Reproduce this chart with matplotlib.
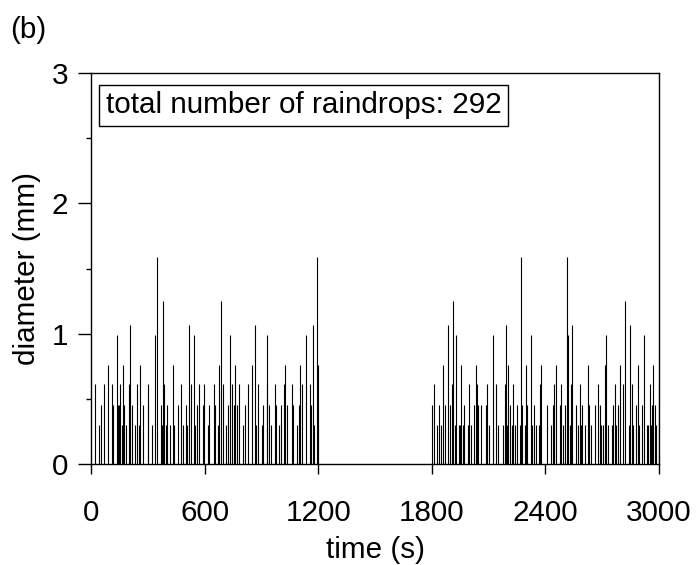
import matplotlib
matplotlib.use("Agg")
import matplotlib.pyplot as plt
from matplotlib.ticker import MultipleLocator

plt.rcParams['font.family'] = ['Liberation Sans', 'DejaVu Sans']

# drop arrival times (s) and diameters (mm)
times_1 = [21, 42, 51, 67, 88, 109, 116, 136, 141, 146, 155, 162, 168, 176, 183,
           201, 205, 215, 231, 242, 252, 259, 273, 300, 303, 321, 339, 349, 369,
           374, 379, 387, 395, 399, 416, 432, 438, 462, 477, 485, 501, 507, 515,
           529, 544, 551, 559, 570, 589, 597, 618, 625, 650]
diam_1 = [0.61, 0.30, 0.45, 0.61, 0.76, 0.61, 0.45, 0.99, 0.45, 0.45, 0.61, 0.30, 0.76, 0.45, 0.30,
          0.61, 1.07, 0.45, 0.30, 0.61, 0.30, 0.76, 0.45, 0.61, 0.45, 0.30, 0.99, 1.59, 0.45,
          0.30, 1.25, 0.61, 0.30, 0.45, 0.30, 0.76, 0.30, 0.45, 0.61, 0.30, 0.45, 0.30, 1.07,
          0.61, 0.99, 0.30, 0.45, 0.61, 0.45, 0.61, 0.30, 0.45, 0.61]

times_2 = [657, 671, 676, 687, 695, 715, 724, 736, 745, 755, 762, 773, 784, 803, 814,
           830, 851, 865, 872, 881, 904, 911, 927, 930, 939, 950, 971, 978, 994, 1006,
           1017, 1024, 1036, 1063, 1068, 1086, 1096, 1105, 1112, 1133, 1158, 1163, 1170,
           1177, 1192, 1197, 1199]
diam_2 = [0.45, 0.30, 0.76, 1.25, 0.61, 0.30, 0.45, 0.99, 0.61, 0.45, 0.76, 0.45, 0.61, 0.30, 0.45,
          0.61, 0.76, 1.07, 0.30, 0.61, 0.30, 0.45, 0.61, 0.99, 0.45, 0.30, 0.61, 0.45, 0.30, 0.45,
          0.61, 0.76, 0.45, 0.61, 0.45, 0.30, 0.45, 0.76, 0.61, 0.99, 0.61, 0.45, 1.07,
          0.30, 1.59, 0.76, 0.30]

times_3 = [1800, 1814, 1825, 1836, 1846, 1859, 1868, 1883, 1896, 1905, 1913, 1921, 1926,
           1942, 1949, 1954, 1963, 1972, 1989, 1995, 2009, 2023, 2032, 2039, 2044, 2058,
           2085, 2092, 2101, 2125, 2138, 2148, 2175, 2184, 2191, 2196, 2205, 2212, 2222,
           2228, 2242, 2252, 2267, 2272, 2279, 2290, 2295, 2305, 2323, 2330, 2341, 2350,
           2364, 2371, 2377]
diam_3 = [0.45, 0.61, 0.30, 0.45, 0.30, 0.76, 0.45, 1.07, 0.45, 0.61, 1.25, 0.30, 0.99,
          0.30, 0.30, 0.76, 0.30, 0.45, 0.30, 0.61, 0.30, 0.45, 0.76, 0.61, 0.45, 0.45,
          0.45, 0.61, 0.30, 0.99, 0.61, 0.30, 0.30, 0.61, 1.07, 0.30, 0.76, 0.45, 0.30,
          0.61, 0.30, 0.45, 0.30, 1.59, 0.45, 0.30, 0.76, 0.45, 0.99, 0.30, 0.45, 0.30,
          0.30, 0.61, 0.76]

times_4 = [2408, 2431, 2438, 2445, 2454, 2475, 2485, 2493, 2503, 2514, 2519, 2528, 2535,
           2542, 2561, 2574, 2581, 2588, 2593, 2609, 2623, 2630, 2641, 2660, 2678, 2688,
           2696, 2706, 2715, 2720, 2731, 2752, 2759, 2766, 2775, 2786, 2794, 2809, 2821,
           2840, 2849, 2856, 2863, 2879, 2888, 2897, 2909, 2922, 2936, 2943, 2950, 2957,
           2962, 2969, 2978, 2985, 2999]
diam_4 = [0.45, 0.30, 0.45, 0.61, 0.76, 0.45, 0.61, 0.30, 0.45, 1.59, 0.99, 0.30, 0.61,
          1.07, 0.45, 0.30, 0.61, 0.30, 0.45, 0.30, 0.76, 0.45, 0.30, 0.45, 0.61, 0.45,
          0.30, 0.30, 0.76, 0.99, 0.30, 0.30, 0.45, 0.61, 0.30, 0.45, 0.76, 0.61, 1.25,
          0.30, 1.07, 0.61, 0.30, 0.45, 0.76, 0.30, 0.45, 0.99, 0.30, 0.30, 0.61, 0.30,
          0.45, 0.76, 0.45, 0.30, 0.61]

times = times_1 + times_2 + times_3 + times_4
diameters = diam_1 + diam_2 + diam_3 + diam_4

x_ticks = [0, 600, 1200, 1800, 2400, 3000]
y_ticks = [0, 1, 2, 3]
total_drops = 292

FS = 21.3

fig = plt.figure(figsize=(6.99, 5.65), dpi=100)
ax = fig.add_axes([91 / 699, 1 - 464 / 565, 568 / 699, 391 / 565])

ax.vlines(times, 0, diameters, colors='black', linewidth=0.8)

ax.set_xlim(0, 3000)
ax.set_ylim(0, 3)
ax.set_xticks(x_ticks)
ax.set_yticks(y_ticks)
ax.yaxis.set_minor_locator(MultipleLocator(0.5))
ax.tick_params(direction='out', width=1, labelsize=FS, colors='black')
ax.tick_params(axis='x', which='major', length=7, pad=18)
ax.tick_params(axis='y', which='major', length=9.4, pad=7)
ax.tick_params(axis='y', which='minor', length=3.6, width=1)
for s in ax.spines.values():
    s.set_linewidth(1.0)

ax.set_xlabel('time (s)', fontsize=FS, labelpad=7)
ax.set_ylabel('diameter (mm)', fontsize=FS, labelpad=8)

ax.text(0.026, 0.918, f'total number of raindrops: {total_drops}',
        transform=ax.transAxes, fontsize=FS, ha='left', va='center',
        bbox=dict(boxstyle='square,pad=0.22', facecolor='white', edgecolor='black', linewidth=1.0))

fig.text(10 / 699, 1 - 30 / 565, '(b)', fontsize=FS, ha='left', va='center')

fig.savefig('out.png', dpi=100)
